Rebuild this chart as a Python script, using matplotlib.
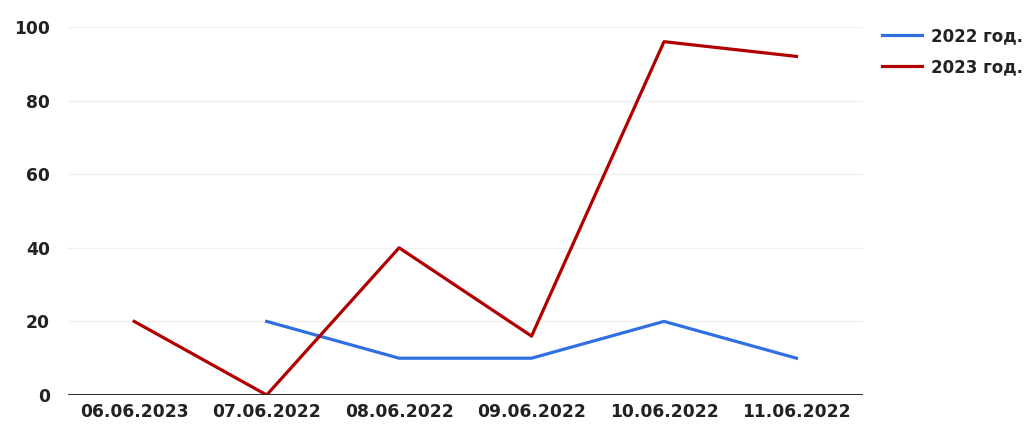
import numpy as np
import matplotlib
matplotlib.use("Agg")
import matplotlib.pyplot as plt

dates = ["06.06.2023", "07.06.2022", "08.06.2022", "09.06.2022", "10.06.2022", "11.06.2022"]
values_2022 = [np.nan, 20, 10, 10, 20, 10]
values_2023 = [20, 0, 40, 16, 96, 92]
series_labels = ["2022 год.", "2023 год."]
yticks = [0, 20, 40, 60, 80, 100]

blue = "#2f6fe0"
red = "#b00000"

plt.rcParams["font.family"] = ["DejaVu Sans"]

fig = plt.figure(figsize=(10.27, 4.28), dpi=100)
ax = fig.add_axes([0.0662, 0.0771, 0.7738, 0.8599])

x = np.arange(len(dates))
ax.plot(x, values_2022, color=blue, lw=2.3, label=series_labels[0])
ax.plot(x, values_2023, color=red, lw=2.3, label=series_labels[1])

ax.set_xlim(-0.5, len(dates) - 0.5)
ax.set_ylim(0, 100)
ax.set_yticks(yticks)
ax.set_xticks(x)
ax.set_xticklabels(dates)

for y in yticks[1:]:
    ax.axhline(y, color="#f0f0f0", lw=1, zorder=0)
ax.axhline(0, color="#333333", lw=2.2, zorder=3)

for s in ax.spines.values():
    s.set_visible(False)
ax.tick_params(length=0)
ax.tick_params(axis="x", pad=6)
ax.tick_params(axis="y", pad=13)
for lab in ax.get_xticklabels() + ax.get_yticklabels():
    lab.set_fontsize(12.3)
    lab.set_fontweight("bold")
    lab.set_color("#222222")

leg = ax.legend(loc="upper left", bbox_to_anchor=(1.006, 1.041), frameon=False,
                handlelength=2.35, handletextpad=0.55, labelspacing=0.8,
                prop={"size": 12, "weight": "bold"})
for t in leg.get_texts():
    t.set_color("#222222")

fig.savefig("out.png", dpi=100)
